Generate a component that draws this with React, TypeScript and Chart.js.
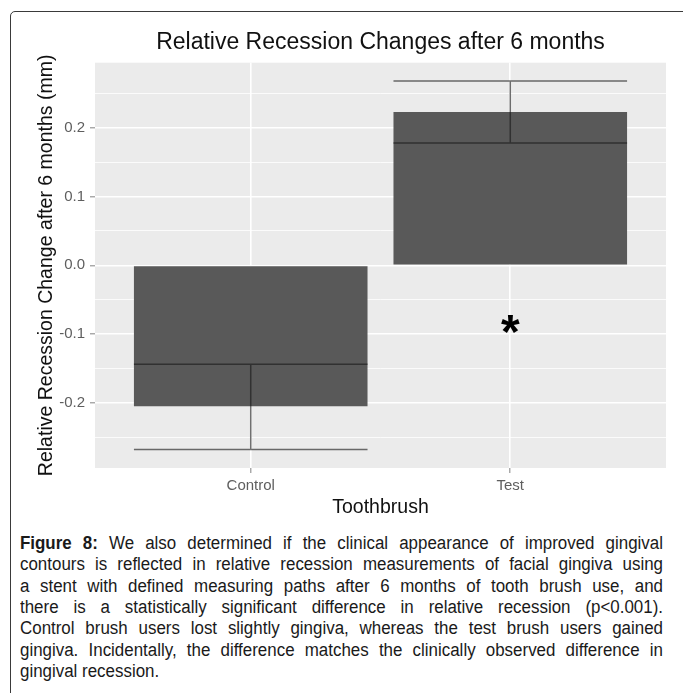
import React, { useEffect, useRef } from 'react';
import { Chart, registerables } from 'chart.js';

Chart.register(...registerables);

const FONT = '"Liberation Sans", Arial, Helvetica, sans-serif';

const chartTitle = 'Relative Recession Changes after 6 months';
const xAxisTitle = 'Toothbrush';
const yAxisTitle = 'Relative Recession Change after 6 months (mm)';

const categories = ['Control', 'Test'];
const barValues = [-0.205, 0.223];
const errorStart = [-0.144, 0.178];
const errorEnd = [-0.268, 0.268];

const yMajorTicks = [-0.2, -0.1, 0.0, 0.1, 0.2];
const yMinorTicks = [-0.25, -0.15, -0.05, 0.05, 0.15, 0.25];

const markLabel = '*';
const markCategory = 'Test';
const markValue = -0.085;

const captionLead = 'Figure 8:';
const captionLines = [
  ' We also determined if the clinical appearance of improved gingival',
  'contours is reflected in relative recession measurements of facial gingiva using',
  'a stent with defined measuring paths after 6 months of tooth brush use, and',
  'there is a statistically significant difference in relative recession (p<0.001).',
  'Control brush users lost slightly gingiva, whereas the test brush users gained',
  'gingiva. Incidentally, the difference matches the clinically observed difference in',
  'gingival recession.',
];

const allValues = [0, ...barValues, ...errorStart, ...errorEnd];
const dataLo = Math.min(...allValues);
const dataHi = Math.max(...allValues);
const yPad = (dataHi - dataLo) * 0.05;
const yLo = dataLo - yPad;
const yHi = dataHi + yPad;

const isMajor = (v: number) => yMajorTicks.some((m) => Math.abs(m - v) < 1e-9);

const panelBackground = {
  id: 'panelBackground',
  beforeDraw(chart: any) {
    const { ctx, chartArea } = chart;
    ctx.save();
    ctx.fillStyle = '#EBEBEB';
    ctx.fillRect(chartArea.left, chartArea.top, chartArea.right - chartArea.left, chartArea.bottom - chartArea.top);
    ctx.restore();
  },
};

const errorBarsAndMark = {
  id: 'errorBarsAndMark',
  afterDatasetsDraw(chart: any) {
    const { ctx, scales } = chart;
    const xs = scales.x;
    const ys = scales.y;
    const meta = chart.getDatasetMeta(0);
    ctx.save();
    ctx.strokeStyle = 'rgba(25,25,25,0.62)';
    ctx.lineWidth = 1.5;
    categories.forEach((_, i) => {
      const bar = meta.data[i];
      const half = bar.width / 2;
      const cx = bar.x;
      const y0 = ys.getPixelForValue(errorStart[i]);
      const y1 = ys.getPixelForValue(errorEnd[i]);
      ctx.beginPath();
      ctx.moveTo(cx - half, y0);
      ctx.lineTo(cx + half, y0);
      ctx.moveTo(cx, y0);
      ctx.lineTo(cx, y1);
      ctx.moveTo(cx - half, y1);
      ctx.lineTo(cx + half, y1);
      ctx.stroke();
    });
    const px = xs.getPixelForValue(categories.indexOf(markCategory) + 1);
    const py = ys.getPixelForValue(markValue);
    ctx.font = 'bold 48px ' + FONT;
    ctx.fillStyle = '#000';
    ctx.textAlign = 'center';
    ctx.textBaseline = 'alphabetic';
    const m = ctx.measureText(markLabel);
    const gy = py + (m.actualBoundingBoxAscent - m.actualBoundingBoxDescent) / 2;
    ctx.fillText(markLabel, px, gy);
    ctx.restore();
  },
};

const CAPTION_SCALE = 0.94;
const CAPTION_WIDTH = 643;

export default function App() {
  const ref = useRef<HTMLCanvasElement>(null);

  useEffect(() => {
    const chart = new Chart(ref.current as HTMLCanvasElement, {
      type: 'bar',
      data: {
        datasets: [
          {
            data: categories.map((_, i) => ({ x: i + 1, y: barValues[i] })),
            backgroundColor: '#595959',
            borderWidth: 0,
            barPercentage: 0.9,
            categoryPercentage: 1,
          },
        ],
      },
      options: {
        responsive: false,
        animation: false,
        devicePixelRatio: 1,
        layout: { padding: { left: 31, right: 17, top: 0, bottom: 0 } },
        plugins: {
          legend: { display: false },
          tooltip: { enabled: false },
          title: {
            display: true,
            text: chartTitle,
            fullSize: false,
            align: 'center',
            color: '#111',
            font: { family: FONT, size: 23, weight: 'normal', lineHeight: 1.2 },
            padding: { top: 29.2, bottom: 5.9 },
          },
        },
        scales: {
          x: {
            type: 'linear',
            offset: false,
            min: 0.4,
            max: categories.length + 0.6,
            afterBuildTicks: (s: any) => {
              s.ticks = categories.map((_, i) => ({ value: i + 1 }));
            },
            afterFit: (s: any) => {
              s.height = 60;
            },
            ticks: {
              autoSkip: false,
              maxRotation: 0,
              padding: 4,
              color: '#5e5e5e',
              font: { family: FONT, size: 15 },
              callback: (v: any) => categories[Math.round(Number(v)) - 1] ?? '',
            },
            grid: {
              offset: false,
              color: '#FFFFFF',
              lineWidth: 1.6,
              tickColor: '#8c8c8c',
              tickLength: 5,
              tickWidth: 1.1,
            },
            border: { display: false },
            title: {
              display: true,
              text: xAxisTitle,
              color: '#111',
              font: { family: FONT, size: 19.5 },
              padding: { top: 0, bottom: 8.3 },
            },
          },
          y: {
            type: 'linear',
            min: yLo,
            max: yHi,
            afterBuildTicks: (s: any) => {
              s.ticks = [...yMinorTicks, ...yMajorTicks].sort((a, b) => a - b).map((v) => ({ value: v }));
            },
            afterFit: (s: any) => {
              s.width = 64;
            },
            ticks: {
              autoSkip: false,
              padding: 5,
              color: '#5e5e5e',
              font: { family: FONT, size: 15 },
              callback: (v: any) => (isMajor(Number(v)) ? Number(v).toFixed(1) : ''),
            },
            grid: {
              color: '#FFFFFF',
              lineWidth: (c: any) => (c.tick && isMajor(c.tick.value) ? 1.6 : 0.8),
              tickColor: (c: any) => (c.tick && isMajor(c.tick.value) ? '#8c8c8c' : 'rgba(0,0,0,0)'),
              tickLength: 5,
              tickWidth: 1.1,
            },
            border: { display: false },
            title: {
              display: true,
              text: yAxisTitle,
              color: '#111',
              font: { family: FONT, size: 19.5 },
              padding: { top: 4, bottom: 0 },
            },
          },
        },
      },
      plugins: [panelBackground, errorBarsAndMark],
    } as any);
    return () => chart.destroy();
  }, []);

  const lineStyle = (last: boolean): React.CSSProperties => ({
    whiteSpace: 'nowrap',
    textAlign: 'justify',
    textAlignLast: last ? 'left' : 'justify',
    height: 21.33,
  });

  return (
    <div
      style={{
        position: 'absolute',
        left: 0,
        top: 0,
        width: 683,
        height: 693,
        overflow: 'hidden',
        background: '#fff',
      }}
    >
      <div
        style={{
          position: 'absolute',
          left: 10,
          top: 11,
          width: 900,
          height: 900,
          border: '1.3px solid #3a3a3a',
          borderTopLeftRadius: 5,
          boxSizing: 'border-box',
        }}
      />
      <canvas
        ref={ref}
        width={683}
        height={528}
        style={{ position: 'absolute', left: 0, top: 0, width: 683, height: 528 }}
      />
      <div
        style={{
          position: 'absolute',
          left: 20,
          top: 533.1,
          width: CAPTION_WIDTH / CAPTION_SCALE,
          transform: `scaleX(${CAPTION_SCALE})`,
          transformOrigin: 'left top',
          fontFamily: FONT,
          fontSize: 18,
          lineHeight: '21.33px',
          color: '#1a1a1a',
        }}
      >
        {captionLines.map((line, i) => (
          <div key={i} style={lineStyle(i === captionLines.length - 1)}>
            {i === 0 ? <b>{captionLead}</b> : null}
            {line}
          </div>
        ))}
      </div>
    </div>
  );
}
